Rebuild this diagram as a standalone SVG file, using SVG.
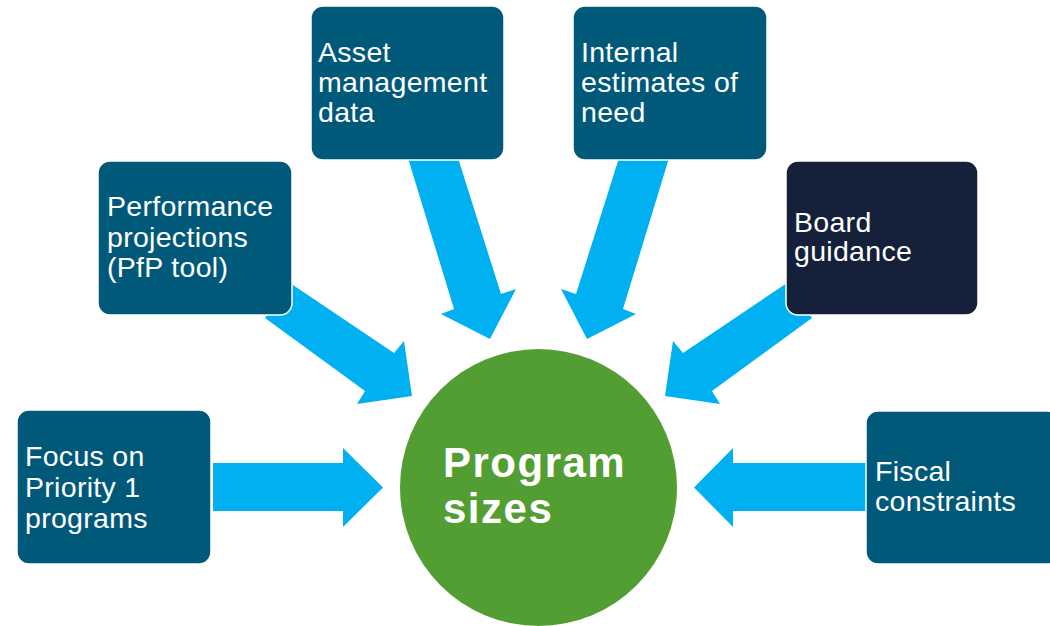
<svg xmlns="http://www.w3.org/2000/svg" width="1050" height="626" viewBox="0 0 1050 626">
<style>
.box{fill:#01597A;stroke:#ffffff;stroke-width:1.5}
.dark{fill:#15213A}
.arrow{fill:#00B0F0}
.lbl{font-family:"Liberation Sans",Arial,sans-serif;font-size:28.5px;fill:#ffffff;letter-spacing:0.3px}
.big{font-family:"Liberation Sans",Arial,sans-serif;font-size:42px;font-weight:bold;fill:#ffffff;letter-spacing:1.5px}
</style>
<rect width="1050" height="626" fill="#ffffff"/>
<g id="connectors">
<polygon class="arrow" points="213,463 343,463 343,448 383,487.5 343,527 343,511 213,511"/>
<polygon class="arrow" points="866,463 733,463 733,448 694,487.5 733,527 733,511 866,511"/>
<polygon class="arrow" points="408,158 458,158 501,294 516,289 490,339 441,314 454,309"/>
<polygon class="arrow" points="669,158 619,158 576,294 561,289 587,339 636,314 623,309"/>
<polygon class="arrow" points="265,318 290,283 394,353 404,341 412,396 357,404 365,391"/>
<polygon class="arrow" points="812,318 787,283 683,353 673,341 665,396 720,404 712,391"/>
</g>
<g id="focus">
<rect class="box" x="17" y="410" width="194" height="154" rx="12"/>
<text class="lbl" x="25" y="466">Focus on</text>
<text class="lbl" x="25" y="497">Priority 1</text>
<text class="lbl" x="25" y="528">programs</text>
</g>
<g id="performance">
<rect class="box" x="98" y="161" width="194" height="154" rx="12"/>
<text class="lbl" x="107" y="216">Performance</text>
<text class="lbl" x="107" y="246.5">projections</text>
<text class="lbl" x="107" y="277">(PfP tool)</text>
</g>
<g id="asset">
<rect class="box" x="311" y="6" width="193" height="154" rx="12"/>
<text class="lbl" x="318" y="62">Asset</text>
<text class="lbl" x="318" y="92">management</text>
<text class="lbl" x="318" y="122">data</text>
</g>
<g id="internal">
<rect class="box" x="573" y="6" width="194" height="154" rx="12"/>
<text class="lbl" x="581" y="62">Internal</text>
<text class="lbl" x="581" y="92">estimates of</text>
<text class="lbl" x="581" y="122">need</text>
</g>
<g id="board">
<rect class="box dark" x="786" y="161" width="192" height="154" rx="12"/>
<text class="lbl" x="794" y="232">Board</text>
<text class="lbl" x="794" y="261">guidance</text>
</g>
<g id="fiscal">
<rect class="box" x="866" y="411" width="194" height="153" rx="12"/>
<text class="lbl" x="875" y="481">Fiscal</text>
<text class="lbl" x="875" y="511">constraints</text>
</g>
<g id="program">
<circle cx="538.5" cy="487.5" r="138.5" fill="#529E32"/>
<text class="big" x="443" y="477">Program</text>
<text class="big" x="443" y="523">sizes</text>
</g>
</svg>
